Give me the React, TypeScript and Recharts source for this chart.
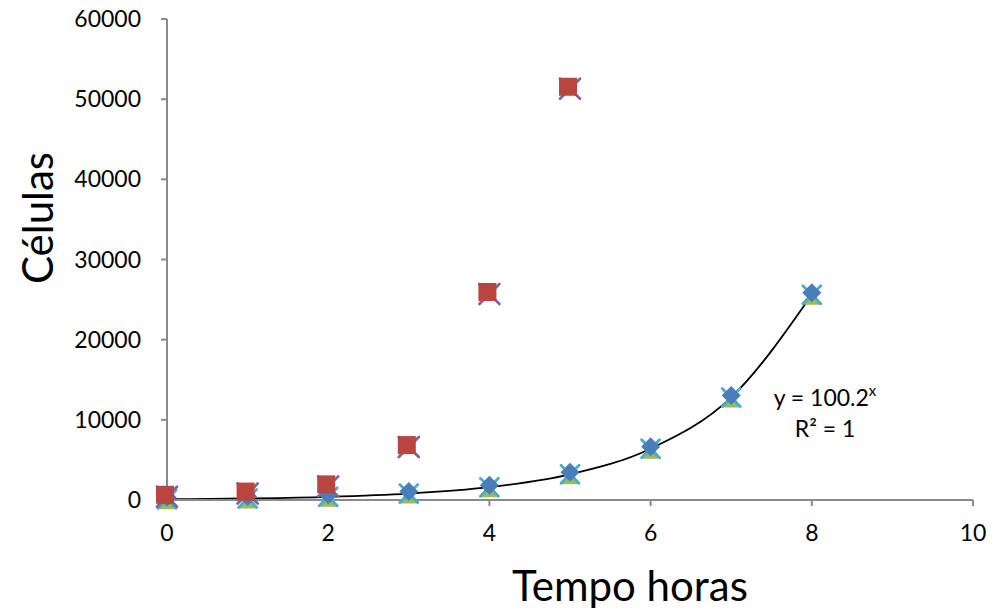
import React from 'react';
import { ComposedChart, XAxis, YAxis, Scatter, Line, Label } from 'recharts';

// Tempo (horas) e número de células
const horasA = [0, 1, 2, 3, 4, 5, 6, 7, 8];
const celulasA = [100, 200, 400, 800, 1600, 3200, 6400, 12800, 25600];
const horasB = [0, 1, 2, 3, 4, 5];
const celulasB = [400, 800, 1700, 6600, 25700, 51300];
const xTicks = [0, 2, 4, 6, 8, 10];
const yTicks = [0, 10000, 20000, 30000, 40000, 50000, 60000];
const equacao = 'y = 100.2';
const r2 = 'R² = 1';

const pontosA = horasA.map((h, i) => ({ x: h, y: celulasA[i] }));
const pontosB = horasB.map((h, i) => ({ x: h, y: celulasB[i] }));

const FONT = 'Lato, "Open Sans", sans-serif';
const AXIS = '#8a8a8a';

const Square = (p: any) => (
  <rect x={p.cx - 11} y={p.cy - 11} width={18} height={18} fill="#B8453F" />
);
const Diamond = (p: any) => {
  const cx = p.cx, cy = p.cy - 2, r = 9.5;
  return <polygon points={`${cx},${cy - r} ${cx + r},${cy} ${cx},${cy + r} ${cx - r},${cy}`} fill="#4A7EBB" />;
};
const Triangle = (p: any) => {
  const cx = p.cx, cy = p.cy;
  return <polygon points={`${cx},${cy - 5} ${cx + 10},${cy + 10} ${cx - 10},${cy + 10}`} fill="#9BBB59" />;
};
const makeX = (color: string, r: number) => (p: any) => (
  <g stroke={color} strokeWidth={2.8} strokeLinecap="round">
    <line x1={p.cx - r} y1={p.cy - r} x2={p.cx + r} y2={p.cy + r} />
    <line x1={p.cx - r} y1={p.cy + r} x2={p.cx + r} y2={p.cy - r} />
  </g>
);
const CyanX = makeX('#4BACC6', 9);
const PurpleX = makeX('#8064A2', 10);

export default function App() {
  return (
    <div style={{ position: 'absolute', left: 0, top: 0, width: 994, height: 615, background: '#fff' }}>
      <ComposedChart width={994} height={615} margin={{ top: 19, right: 21, bottom: 0, left: 0 }}>
        <XAxis
          type="number"
          dataKey="x"
          domain={[0, 10]}
          ticks={xTicks}
          interval={0}
          height={115}
          axisLine={{ stroke: AXIS, strokeWidth: 2 }}
          tickLine={{ stroke: AXIS, strokeWidth: 2 }}
          tickSize={6}
          tickMargin={19}
          tick={{ fontFamily: FONT, fontSize: 23, fill: '#000' }}
        >
          <Label
            content={() => (
              <text x={630} y={601} textAnchor="middle" fontFamily={FONT} fontSize={42} fill="#000">
                Tempo horas
              </text>
            )}
          />
        </XAxis>
        <YAxis
          type="number"
          dataKey="y"
          domain={[0, 60000]}
          ticks={yTicks}
          interval={0}
          width={167}
          axisLine={{ stroke: AXIS, strokeWidth: 2 }}
          tickLine={{ stroke: AXIS, strokeWidth: 2 }}
          tickSize={6}
          tickMargin={20}
          tick={{ fontFamily: FONT, fontSize: 23, fill: '#000' }}
        >
          <Label
            content={() => (
              <text
                x={37}
                y={218}
                transform="rotate(-90 37 218)"
                textAnchor="middle"
                dominantBaseline="central"
                fontFamily={FONT}
                fontSize={42}
                fill="#000"
              >
                Células
              </text>
            )}
          />
        </YAxis>
        <Scatter data={pontosA} dataKey="y" shape={Triangle} isAnimationActive={false} />
        <Scatter data={pontosA} dataKey="y" shape={CyanX} isAnimationActive={false} />
        <Scatter data={pontosB} dataKey="y" shape={PurpleX} isAnimationActive={false} />
        <Scatter data={pontosA} dataKey="y" shape={Diamond} isAnimationActive={false} />
        <Scatter data={pontosB} dataKey="y" shape={Square} isAnimationActive={false} />
        <Line
          data={pontosA}
          dataKey="y"
          type="monotone"
          stroke="#000"
          strokeWidth={1.8}
          dot={false}
          activeDot={false}
          isAnimationActive={false}
        />
      </ComposedChart>
      <svg width={994} height={615} style={{ position: 'absolute', left: 0, top: 0, pointerEvents: 'none' }}>
        <text x={825} y={406} textAnchor="middle" fontFamily={FONT} fontSize={23} fill="#000">
          {equacao}
          <tspan fontSize={15} dy={-10}>x</tspan>
        </text>
        <text x={825} y={437} textAnchor="middle" fontFamily={FONT} fontSize={23} fill="#000">
          {r2}
        </text>
      </svg>
    </div>
  );
}
